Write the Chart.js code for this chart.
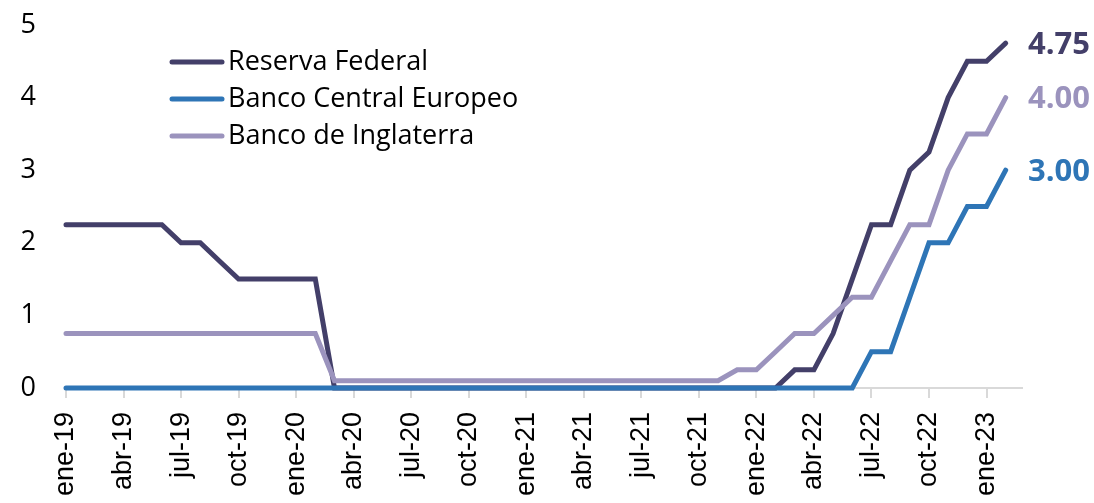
<!DOCTYPE html>
<html lang="es">
  <head>
    <meta charset="utf-8" />
    <title>Tipos de interés oficiales</title>
    <style>
      html, body { margin: 0; padding: 0; background: #fff; }
      .chartBox { width: 1094px; height: 503px; }
    </style>
  </head>
  <body>
    <div class="chartBox">
      <canvas id="myChart"></canvas>
    </div>
    <script src="https://cdn.jsdelivr.net/npm/chart.js"></script>
    <script>
      // meses ene-19 ... feb-23
      const months = [
        "ene-19", "feb-19", "mar-19", "abr-19", "may-19", "jun-19", "jul-19", "ago-19", "sep-19", "oct-19", "nov-19", "dic-19",
        "ene-20", "feb-20", "mar-20", "abr-20", "may-20", "jun-20", "jul-20", "ago-20", "sep-20", "oct-20", "nov-20", "dic-20",
        "ene-21", "feb-21", "mar-21", "abr-21", "may-21", "jun-21", "jul-21", "ago-21", "sep-21", "oct-21", "nov-21", "dic-21",
        "ene-22", "feb-22", "mar-22", "abr-22", "may-22", "jun-22", "jul-22", "ago-22", "sep-22", "oct-22", "nov-22", "dic-22",
        "ene-23", "feb-23"
      ];
      const tickMonths = ["ene-19", "abr-19", "jul-19", "oct-19", "ene-20", "abr-20", "jul-20", "oct-20", "ene-21",
        "abr-21", "jul-21", "oct-21", "ene-22", "abr-22", "jul-22", "oct-22", "ene-23"];

      const fedValues = [
        2.25, 2.25, 2.25, 2.25, 2.25, 2.25, 2.0, 2.0, 1.75, 1.5, 1.5, 1.5,
        1.5, 1.5, 0, 0, 0, 0, 0, 0, 0, 0, 0, 0,
        0, 0, 0, 0, 0, 0, 0, 0, 0, 0, 0, 0,
        0, 0, 0.25, 0.25, 0.75, 1.5, 2.25, 2.25, 3.0, 3.25, 4.0, 4.5,
        4.5, 4.75
      ];
      const ecbValues = [
        0, 0, 0, 0, 0, 0, 0, 0, 0, 0, 0, 0,
        0, 0, 0, 0, 0, 0, 0, 0, 0, 0, 0, 0,
        0, 0, 0, 0, 0, 0, 0, 0, 0, 0, 0, 0,
        0, 0, 0, 0, 0, 0, 0.5, 0.5, 1.25, 2.0, 2.0, 2.5,
        2.5, 3.0
      ];
      const boeValues = [
        0.75, 0.75, 0.75, 0.75, 0.75, 0.75, 0.75, 0.75, 0.75, 0.75, 0.75, 0.75,
        0.75, 0.75, 0.1, 0.1, 0.1, 0.1, 0.1, 0.1, 0.1, 0.1, 0.1, 0.1,
        0.1, 0.1, 0.1, 0.1, 0.1, 0.1, 0.1, 0.1, 0.1, 0.1, 0.1, 0.25,
        0.25, 0.5, 0.75, 0.75, 1.0, 1.25, 1.25, 1.75, 2.25, 2.25, 3.0, 3.5,
        3.5, 4.0
      ];

      const colFed = "#433f69";
      const colEcb = "#2e75b6";
      const colBoe = "#9b93bd";

      const toPoints = (vals) => vals.map((v, i) => ({ x: i, y: v }));

      const datasets = [
        { label: "Reserva Federal", data: toPoints(fedValues), borderColor: colFed, order: 3 },
        { label: "Banco Central Europeo", data: toPoints(ecbValues), borderColor: colEcb, order: 1 },
        { label: "Banco de Inglaterra", data: toPoints(boeValues), borderColor: colBoe, order: 2 },
      ].map((d) => ({
        ...d,
        borderWidth: 5,
        pointRadius: 0,
        tension: 0,
        fill: false,
        clip: 8,
        borderCapStyle: "round",
        borderJoinStyle: "miter",
      }));

      // legend inside the plot + end-of-line value labels
      const extras = {
        id: "extras",
        afterDatasetsDraw(chart) {
          const ctx = chart.ctx;
          const ys = chart.scales.y;
          ctx.save();
          // legend
          chart.data.datasets.forEach((ds, row) => {
            const y = 62 + row * 37;
            ctx.strokeStyle = ds.borderColor;
            ctx.lineWidth = 5;
            ctx.lineCap = "round";
            ctx.beginPath();
            ctx.moveTo(172, y);
            ctx.lineTo(222, y);
            ctx.stroke();
            ctx.fillStyle = "#000";
            ctx.font = "27px 'Open Sans'";
            ctx.textBaseline = "middle";
            ctx.textAlign = "left";
            ctx.fillText(ds.label, 228, y);
          });
          // final values
          ctx.font = "bold 31px 'Open Sans'";
          ctx.textBaseline = "middle";
          chart.data.datasets.forEach((ds) => {
            const last = ds.data[ds.data.length - 1];
            ctx.fillStyle = ds.borderColor;
            ctx.fillText(last.y.toFixed(2), 1028, ys.getPixelForValue(last.y) + 2);
          });
          ctx.restore();
        },
      };

      const config = {
        type: "line",
        data: { datasets },
        plugins: [extras],
        options: {
          responsive: true,
          maintainAspectRatio: false,
          animation: false,
          layout: { padding: { left: 18, right: 72, top: 25, bottom: 0 } },
          plugins: {
            legend: { display: false },
            tooltip: { enabled: false },
          },
          scales: {
            x: {
              type: "linear",
              min: 0,
              max: 49.85,
              afterBuildTicks(scale) {
                scale.ticks = tickMonths.map((m) => ({ value: months.indexOf(m) }));
              },
              afterFit(scale) {
                scale.height = 115;
                scale.paddingLeft = 0;
                scale.paddingRight = 0;
              },
              ticks: {
                autoSkip: false,
                maxRotation: 90,
                minRotation: 90,
                padding: 14,
                color: "#000",
                font: { family: "Liberation Sans", size: 27 },
                callback: (v) => months[v],
              },
              grid: {
                drawOnChartArea: false,
                drawTicks: true,
                tickLength: 10,
                color: "#d9d9d9",
                lineWidth: 2,
              },
              border: { color: "#d9d9d9", width: 2 },
            },
            y: {
              min: 0,
              max: 5,
              afterFit(scale) {
                scale.width = 48;
                scale.paddingTop = 0;
                scale.paddingBottom = 0;
              },
              ticks: {
                stepSize: 1,
                padding: 30,
                color: "#000",
                font: { family: "Open Sans", size: 27 },
              },
              grid: { display: false, drawTicks: false },
              border: { display: false },
            },
          },
        },
      };

      new Chart(document.getElementById("myChart"), config);
    </script>
  </body>
</html>
